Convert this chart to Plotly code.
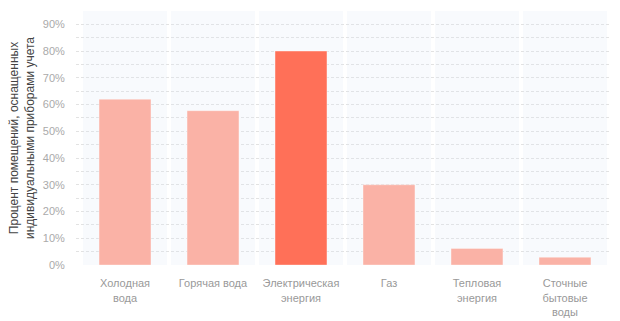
import plotly.graph_objects as go

categories = ["Холодная<br>вода", "Горячая вода", "Электрическая<br>энергия", "Газ",
              "Тепловая<br>энергия", "Сточные<br>бытовые<br>воды"]
values = [62.0, 57.7, 80.0, 30.0, 6.2, 2.9]
highlight = "Электрическая<br>энергия"
y_max = 95
y_ticks = [0, 10, 20, 30, 40, 50, 60, 70, 80, 90]
y_tick_labels = [f"{v}%" for v in y_ticks]
y_title = "Процент помещений, оснащенных<br>индивидуальными приборами учета"

light = "rgb(250,178,166)"
strong = "rgb(255,112,88)"
colors = [strong if c == highlight else light for c in categories]

x_idx = list(range(len(categories)))

fig = go.Figure()
# background column bands
fig.add_trace(go.Bar(
    x=x_idx, y=[y_max] * len(categories), width=0.955,
    marker=dict(color="rgba(225,232,245,0.22)", line=dict(width=0)),
    hoverinfo="skip", showlegend=False,
))
fig.add_trace(go.Bar(
    x=x_idx, y=values, width=0.59,
    marker=dict(color=colors, line=dict(color="rgba(255,255,255,0.35)", width=1)),
    showlegend=False,
))

font = "Liberation Sans, Arial, sans-serif"
fig.update_layout(
    width=620, height=321,
    margin=dict(l=76, r=9, t=11, b=56),
    barmode="overlay",
    paper_bgcolor="white", plot_bgcolor="white",
    font=dict(family=font, size=11, color="#999"),
)
fig.update_xaxes(
    tickmode="array", tickvals=x_idx, ticktext=categories,
    range=[-0.557, 5.523], showgrid=False, zeroline=False, showline=False,
    ticks="outside", ticklen=8, tickcolor="rgba(0,0,0,0)",
    tickfont=dict(size=11, color="#999"), automargin=False,
)
fig.update_yaxes(
    range=[0, y_max], tickmode="array", tickvals=y_ticks, ticktext=y_tick_labels,
    showgrid=True, gridcolor="#e2e2e2", gridwidth=1, griddash="3px,2px",
    minor=dict(dtick=5, tick0=0, showgrid=True, gridcolor="#e2e2e2", gridwidth=1, griddash="3px,2px"),
    zeroline=False, showline=False,
    ticks="outside", ticklen=8, tickcolor="rgba(0,0,0,0)",
    tickfont=dict(size=11, color="#aaa"), automargin=False,
    title=dict(text=y_title, font=dict(size=12, color="#444"), standoff=5),
)
fig.write_html("out.html")
